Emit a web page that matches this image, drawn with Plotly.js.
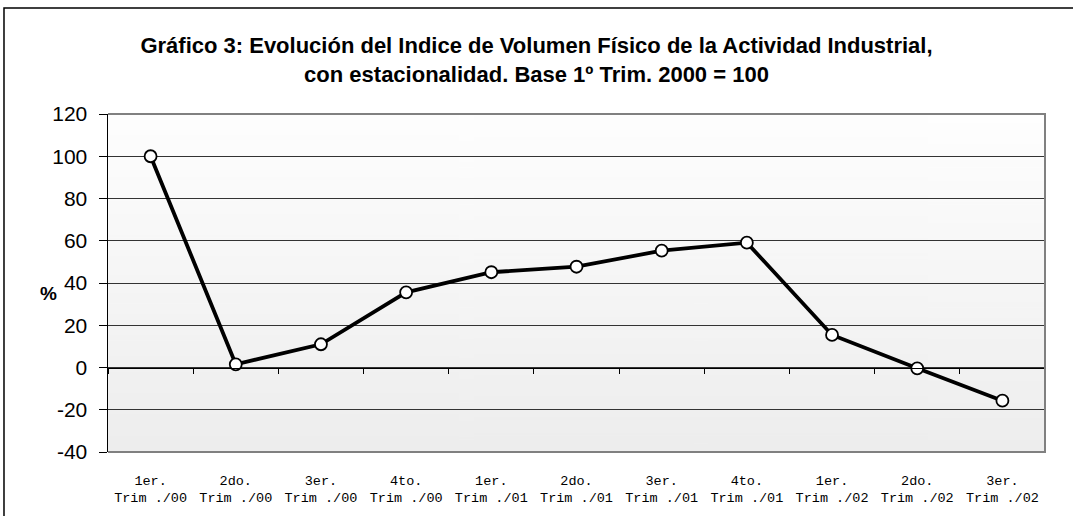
<!DOCTYPE html>
<html>
<head>
<meta charset="utf-8">
<script src="https://cdn.plot.ly/plotly-3.0.1.min.js"></script>
<style>
html,body{margin:0;padding:0;background:#fff;}
#chart{width:1073px;height:516px;}
</style>
</head>
<body>
<div id="chart"></div>
<script>
// ---- data ----
const quarterLabels = ["1er.", "2do.", "3er.", "4to.", "1er.", "2do.", "3er.", "4to.", "1er.", "2do.", "3er."];
const yearLabels = ["Trim ./00", "Trim ./00", "Trim ./00", "Trim ./00", "Trim ./01", "Trim ./01", "Trim ./01", "Trim ./01", "Trim ./02", "Trim ./02", "Trim ./02"];
const indexValues = [100, 1.5, 11, 35.6, 45.1, 47.7, 55.3, 59.1, 15.4, -0.4, -15.7];
const yTicks = [-40, -20, 0, 20, 40, 60, 80, 100, 120];
const titleLine1 = "Gráfico 3: Evolución del Indice de Volumen Físico de la Actividad Industrial,";
const titleLine2 = "con estacionalidad. Base 1º Trim. 2000 = 100";

const categories = quarterLabels.map((q, i) => q + "<br>" + yearLabels[i]);

// gradient background image
const cv = document.createElement("canvas");
cv.width = 4; cv.height = 256;
const ctx = cv.getContext("2d");
const g = ctx.createLinearGradient(0, 0, 0, 256);
g.addColorStop(0, "#fefefe");
g.addColorStop(1, "#ededed");
ctx.fillStyle = g; ctx.fillRect(0, 0, 4, 256);
const bgURL = cv.toDataURL();

const traces = [
  {
    x: categories, y: indexValues, xaxis: "x2", yaxis: "y",
    mode: "markers", marker: {opacity: 0}, hoverinfo: "skip", showlegend: false
  },
  {
    x: categories, y: indexValues, xaxis: "x", yaxis: "y",
    mode: "lines+markers",
    line: {color: "#000000", width: 3.8},
    marker: {size: 12, color: "#ffffff", line: {color: "#000000", width: 1.8}},
    showlegend: false, cliponaxis: false
  }
];

const titleFont = {family: "Liberation Sans, Arial, sans-serif", size: 22, color: "#000"};

const layout = {
  width: 1073, height: 516,
  margin: {l: 108, r: 28, t: 114, b: 64},
  paper_bgcolor: "#ffffff",
  plot_bgcolor: "rgba(0,0,0,0)",
  font: {family: "Liberation Sans, Arial, sans-serif", color: "#000"},
  title: {
    text: "<b>" + titleLine1 + "<br>" + titleLine2 + "</b>",
    font: titleFont,
    xref: "container", x: 0.5, xanchor: "center",
    yref: "container", y: 1 - 53 / 516, yanchor: "middle"
  },
  xaxis: {
    type: "category", domain: [0, 1],
    showgrid: false, zeroline: false, showline: false,
    ticks: "", ticklabelstandoff: 18,
    tickfont: {family: "Liberation Mono, Courier New, monospace", size: 13.5, color: "#000"},
    range: [-0.5, categories.length - 0.5]
  },
  xaxis2: {
    type: "category", overlaying: "x", anchor: "free", position: 0.25,
    showgrid: false, zeroline: false, showline: true, linecolor: "#000", linewidth: 1,
    ticks: "outside", tickson: "boundaries", ticklen: 5, tickcolor: "#000", tickwidth: 1,
    showticklabels: false,
    range: [-0.5, categories.length - 0.5]
  },
  yaxis: {
    range: [-40, 120], tickvals: yTicks, ticktext: yTicks.map(String),
    showgrid: true, gridcolor: "#333333", gridwidth: 1,
    zeroline: false,
    showline: true, linecolor: "#000", linewidth: 1.5,
    ticks: "outside", ticklen: 8, tickcolor: "#000", tickwidth: 1,
    tickfont: {family: "Liberation Sans, Arial, sans-serif", size: 21, color: "#000"},
    ticklabelstandoff: 7
  },
  images: [{
    source: bgURL, xref: "paper", yref: "paper", x: 0, y: 1, sizex: 1, sizey: 1,
    sizing: "stretch", layer: "below", xanchor: "left", yanchor: "top"
  }],
  shapes: [
    {type: "path", xref: "paper", yref: "paper",
     path: "M 0,1 L 1,1 L 1,0 L 0,0", line: {color: "#808080", width: 2}, layer: "above"},
    {type: "path", xref: "paper", yref: "paper",
     path: "M -0.111,-0.4 L -0.111,1.3136 L 1.2,1.3136", line: {color: "#000", width: 1.5}, layer: "above"}
  ],
  annotations: [
    {
      text: "<b>%</b>", xref: "paper", yref: "y", x: (38 - 108) / 937, y: 35,
      showarrow: false, font: {family: "Liberation Sans, Arial, sans-serif", size: 19, color: "#000"}
    }
  ]
};

Plotly.newPlot("chart", traces, layout, {displayModeBar: false, staticPlot: true});
</script>
</body>
</html>
